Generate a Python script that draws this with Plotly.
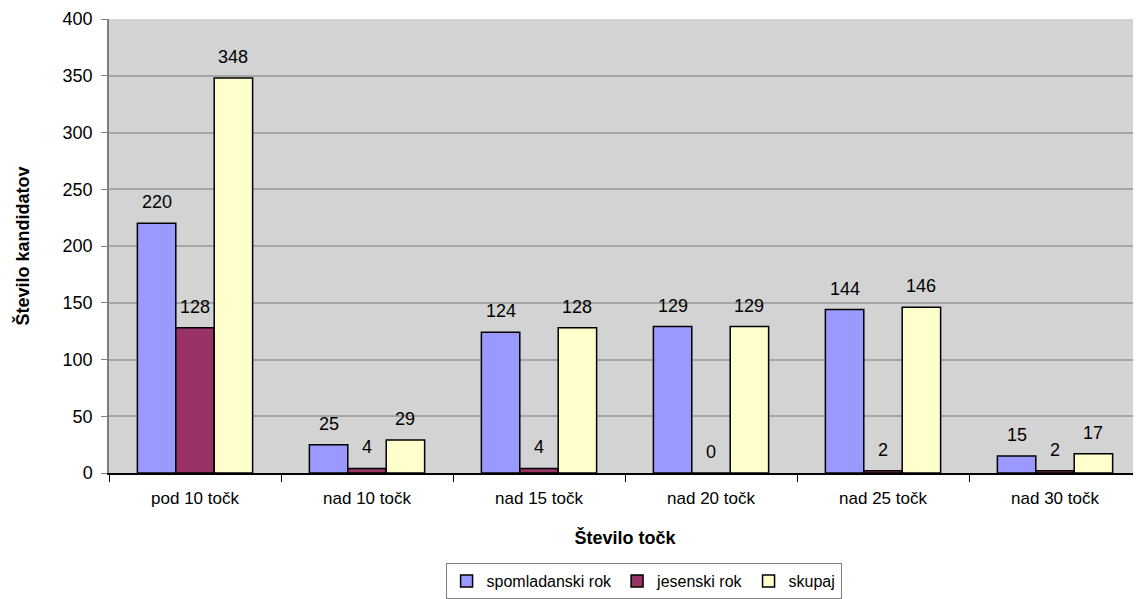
import plotly.graph_objects as go

categories = ["pod 10 točk", "nad 10 točk", "nad 15 točk", "nad 20 točk", "nad 25 točk", "nad 30 točk"]
spomladanski = [220, 25, 124, 129, 144, 15]
jesenski = [128, 4, 4, 0, 2, 2]
skupaj = [348, 29, 128, 129, 146, 17]

series = [
    ("spomladanski rok", spomladanski, "#9999FF"),
    ("jesenski rok", jesenski, "#993366"),
    ("skupaj", skupaj, "#FFFFCC"),
]

# page body has an 8px margin, so the figure is shrunk to fit the window
W, H = 1133, 591
ML, MR, MT, MB = 101, 0, 11, 125
BARGAP = 0.33

fig = go.Figure()
for name, vals, color in series:
    fig.add_trace(go.Bar(
        x=categories, y=vals, name=name,
        marker=dict(color=color, line=dict(color="black", width=1.5)),
    ))

# value labels above each bar, shifted to the bar's slot in the group
cat_px = (W - ML - MR) / len(categories)
bar_px = cat_px * (1 - BARGAP) / len(series)
for i, (name, vals, color) in enumerate(series):
    for cat, v in zip(categories, vals):
        fig.add_annotation(
            x=cat, y=v, text=str(v), showarrow=False,
            xshift=(i - 1) * bar_px, yshift=9, yanchor="bottom",
            font=dict(size=18, color="black"),
        )

font = "Liberation Sans, Arial, sans-serif"
fig.update_layout(
    width=W, height=H,
    margin=dict(l=ML, r=MR, t=MT, b=MB),
    paper_bgcolor="white", plot_bgcolor="#D3D3D3",
    font=dict(family=font, size=18, color="black"),
    barmode="group", bargap=BARGAP, bargroupgap=0,
    showlegend=True,
    legend=dict(
        orientation="h", x=0.518, xanchor="center", y=-0.198, yanchor="top",
        bordercolor="#808080", borderwidth=1, font=dict(size=16),
        itemwidth=30,
    ),
    xaxis=dict(
        title=dict(text="<b>Število točk</b>", font=dict(size=18), standoff=24),
        tickson="boundaries", ticks="outside", ticklen=7, tickcolor="black",
        showline=True, linecolor="black", linewidth=1.5,
        tickfont=dict(size=17), ticklabelstandoff=9,
    ),
    yaxis=dict(
        title=dict(text="<b>Število kandidatov</b>", font=dict(size=18), standoff=28),
        range=[0, 400], dtick=50, ticks="outside", ticklen=6, tickcolor="#808080",
        showline=True, linecolor="#808080", linewidth=1.5,
        gridcolor="#A6A6A6", gridwidth=1.5, zeroline=False,
        tickfont=dict(size=18), ticklabelstandoff=5,
    ),
)

fig.write_html("out.html")
